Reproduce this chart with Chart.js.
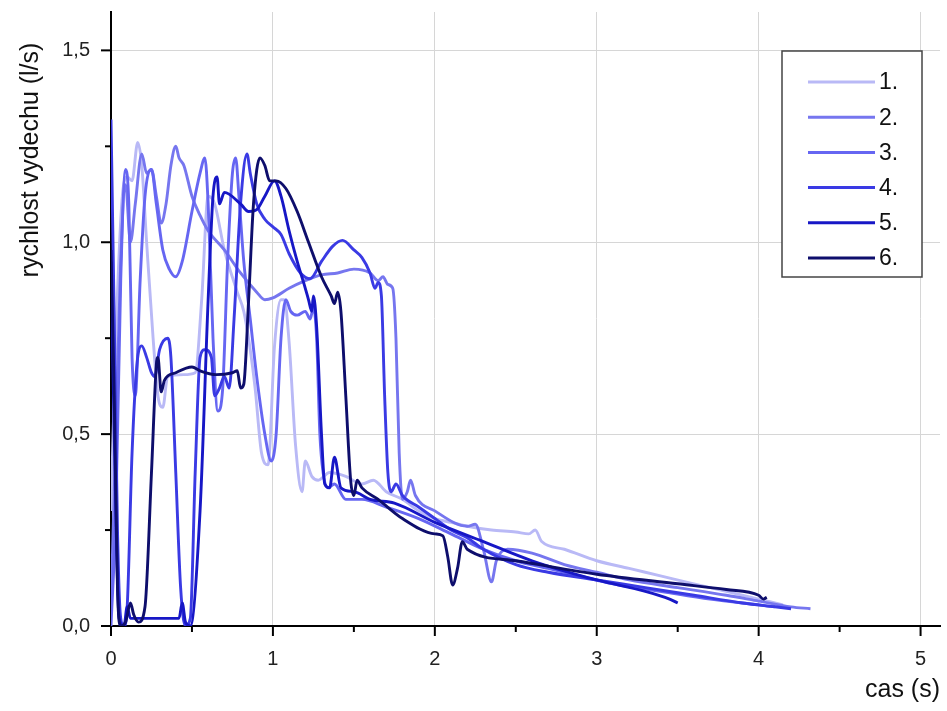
<!DOCTYPE html>
<html>
<head>
<meta charset="utf-8">
<script src="https://cdn.jsdelivr.net/npm/chart.js@4.4.1/dist/chart.umd.min.js"></script>
<style>
  html, body { margin: 0; padding: 0; background: #fff; }
  #wrap { width: 947px; height: 711px; }
</style>
</head>
<body>
<div id="wrap"><canvas id="myChart" width="947" height="711"></canvas></div>
<script>
// tick values (s) and (l/s)
const xTicks = [0, 0.5, 1, 1.5, 2, 2.5, 3, 3.5, 4, 4.5, 5]
const yTicks = [0, 0.25, 0.5, 0.75, 1, 1.25, 1.5]

const seriesNames = ['1.', '2.', '3.', '4.', '5.', '6.']
const seriesColors = ['#b9b9f6', '#7676ef', '#6666f2', '#3a3ae4', '#1717c6', '#0e0e6c']

// 1.
const s1t = [0, 0.03, 0.07, 0.1, 0.13, 0.165, 0.19, 0.22, 0.26, 0.29, 0.32, 0.35, 0.45, 0.52, 0.56, 0.6, 0.64, 0.7, 0.78, 0.82, 0.86, 0.89, 0.93, 0.97, 1.01, 1.05, 1.07, 1.1, 1.14, 1.18, 1.2, 1.24, 1.28, 1.35, 1.45, 1.55, 1.62, 1.7, 1.8, 1.9, 2.0, 2.1, 2.2, 2.35, 2.5, 2.58, 2.62, 2.66, 2.8, 3.0, 3.2, 3.4, 3.6, 3.8, 4.0, 4.15]
const s1v = [0.3, 0.75, 1.12, 1.17, 1.16, 1.26, 1.2, 1.0, 0.75, 0.6, 0.57, 0.65, 0.655, 0.66, 0.85, 1.12, 1.1, 0.98, 0.87, 0.82, 0.72, 0.62, 0.45, 0.42, 0.73, 0.85, 0.85, 0.74, 0.47, 0.35, 0.43, 0.39, 0.38, 0.4, 0.39, 0.37, 0.38, 0.35, 0.33, 0.3, 0.28, 0.27, 0.26, 0.25, 0.245, 0.24, 0.25, 0.22, 0.2, 0.17, 0.15, 0.13, 0.11, 0.09, 0.07, 0.055]

// 2.
const s2t = [0, 0.03, 0.06, 0.09, 0.12, 0.15, 0.19, 0.22, 0.25, 0.28, 0.31, 0.34, 0.37, 0.4, 0.42, 0.45, 0.5, 0.55, 0.6, 0.7, 0.8, 0.9, 0.95, 1.0, 1.1, 1.2, 1.3, 1.4, 1.5, 1.6, 1.65, 1.68, 1.71, 1.74, 1.76, 1.78, 1.8, 1.83, 1.85, 1.88, 2.0, 2.2, 2.25, 2.3, 2.35, 2.38, 2.45, 2.6, 2.8, 3.0, 3.2, 3.5, 3.8, 4.0, 4.2, 4.32]
const s2v = [0.05, 0.5, 0.95, 1.15, 1.0, 1.1, 1.23, 1.18, 1.19, 1.12, 1.05, 1.1, 1.2, 1.25, 1.22, 1.2, 1.12, 1.07, 1.03, 0.98, 0.92, 0.87, 0.85, 0.855, 0.88, 0.9, 0.915, 0.92, 0.93, 0.92, 0.9, 0.91, 0.89, 0.88, 0.75, 0.45, 0.33, 0.35, 0.38, 0.34, 0.3, 0.26, 0.265, 0.2, 0.115, 0.17, 0.2, 0.19, 0.16, 0.14, 0.12, 0.1, 0.08, 0.065, 0.05, 0.045]

// 3.
const s3t = [0, 0.03, 0.06, 0.09, 0.11, 0.13, 0.15, 0.18, 0.21, 0.25, 0.28, 0.32, 0.36, 0.4, 0.44, 0.5, 0.55, 0.58, 0.6, 0.63, 0.66, 0.69, 0.72, 0.75, 0.77, 0.79, 0.82, 0.86, 0.9, 0.95, 0.99, 1.02, 1.05, 1.08, 1.11, 1.15, 1.2, 1.23, 1.25, 1.27, 1.29, 1.31, 1.34, 1.38, 1.45, 1.55, 1.7, 1.9, 2.1, 2.3, 2.5, 2.7, 2.9, 3.1, 3.4, 3.7, 4.0, 4.1]
const s3v = [0.0, 0.3, 0.9, 1.19, 1.1, 0.7, 0.6, 0.9, 1.12, 1.19, 1.1, 0.98, 0.93, 0.91, 0.95, 1.08, 1.18, 1.22, 1.1, 0.75, 0.56, 0.62, 0.95, 1.18, 1.22, 1.12, 0.95, 0.8, 0.65, 0.5, 0.43, 0.5, 0.75, 0.85, 0.82, 0.81, 0.82, 0.8, 0.83, 0.75, 0.5, 0.4, 0.36, 0.37, 0.33, 0.33, 0.31, 0.28, 0.24, 0.2, 0.17, 0.15, 0.13, 0.11, 0.09, 0.07, 0.055, 0.05]

// 4.
const s4t = [0, 0.02, 0.04, 0.06, 0.08, 0.1, 0.13, 0.16, 0.19, 0.22, 0.25, 0.27, 0.3, 0.35, 0.37, 0.4, 0.43, 0.46, 0.49, 0.52, 0.55, 0.58, 0.62, 0.64, 0.67, 0.7, 0.73, 0.76, 0.8, 0.84, 0.86, 0.9, 0.95, 1.0, 1.05, 1.1, 1.17, 1.23, 1.3, 1.37, 1.43, 1.5, 1.55, 1.6, 1.63, 1.65, 1.67, 1.69, 1.71, 1.73, 1.76, 1.8, 1.9, 2.0, 2.1, 2.2, 2.3, 2.5, 2.7, 3.0, 3.3, 3.6, 3.9, 4.1, 4.2]
const s4v = [1.32, 0.8, 0.25, 0.02, 0.0, 0.05, 0.45, 0.68, 0.73, 0.7, 0.66, 0.65, 0.72, 0.75, 0.7, 0.4, 0.1, 0.0, 0.02, 0.4, 0.7, 0.72, 0.7, 0.6, 0.62, 0.65, 0.62, 0.8, 1.1, 1.23, 1.18, 1.1, 1.06, 1.04, 1.02, 0.97, 0.92, 0.905, 0.95, 0.99, 1.005, 0.98, 0.96, 0.92, 0.88, 0.895, 0.86, 0.6, 0.4, 0.35, 0.37, 0.34, 0.31, 0.28, 0.25, 0.23, 0.2, 0.16, 0.14, 0.12, 0.1, 0.08, 0.06, 0.05, 0.045]

// 5.
const s5t = [0, 0.02, 0.05, 0.08, 0.1, 0.12, 0.15, 0.42, 0.44, 0.46, 0.49, 0.55, 0.6, 0.63, 0.655, 0.67, 0.7, 0.8, 0.85, 0.9, 0.95, 1.01, 1.05, 1.1, 1.15, 1.2, 1.22, 1.24, 1.25, 1.27, 1.3, 1.32, 1.35, 1.38, 1.42, 1.5, 1.6, 1.75, 2.0, 2.3, 2.6, 3.0, 3.3, 3.45, 3.5]
const s5v = [0.95, 0.5, 0.02, 0.0, 0.05, 0.02, 0.02, 0.02, 0.06, 0.01, 0.0, 0.3, 0.85, 1.12, 1.17, 1.1, 1.13, 1.1, 1.08, 1.085, 1.12, 1.16, 1.12, 1.03, 0.95, 0.88, 0.85, 0.82, 0.86, 0.78, 0.5, 0.37, 0.36, 0.44, 0.36, 0.35, 0.33, 0.32, 0.27, 0.22, 0.17, 0.12, 0.09, 0.07, 0.06]

// 6.
const s6t = [0, 0.02, 0.04, 0.06, 0.09, 0.12, 0.14, 0.17, 0.21, 0.25, 0.28, 0.29, 0.31, 0.33, 0.4, 0.5, 0.55, 0.65, 0.75, 0.78, 0.8, 0.82, 0.85, 0.88, 0.92, 0.95, 0.98, 1.02, 1.08, 1.15, 1.22, 1.3, 1.36, 1.38, 1.4, 1.42, 1.45, 1.48, 1.5, 1.52, 1.55, 1.65, 1.8, 2.0, 2.05, 2.08, 2.11, 2.14, 2.17, 2.2, 2.5, 3.0, 3.5, 3.8, 4.0, 4.03, 4.05]
const s6v = [0.98, 0.6, 0.1, 0.0, 0.01, 0.06, 0.03, 0.01, 0.05, 0.4, 0.68, 0.7, 0.61, 0.64, 0.66, 0.675, 0.665, 0.655, 0.66, 0.665, 0.62, 0.63, 0.85, 1.1, 1.22, 1.2, 1.16, 1.16, 1.14, 1.08, 1.0, 0.91, 0.86, 0.84, 0.87, 0.82, 0.6, 0.38, 0.34, 0.38, 0.36, 0.33, 0.28, 0.24, 0.235, 0.18, 0.107, 0.15, 0.22, 0.2, 0.17, 0.135, 0.11, 0.095, 0.08, 0.07, 0.075]

const allT = [s1t, s2t, s3t, s4t, s5t, s6t]
const allV = [s1v, s2v, s3v, s4v, s5v, s6v]

const toPoints = (ts, vs) => ts.map((t, i) => ({ x: t, y: vs[i] }))
const fmtComma = v => v.toFixed(1).replace('.', ',')
const isMajorX = v => Number.isInteger(v)
const isMajorY = v => Number.isInteger(Math.round(v * 2 * 1000) / 1000)

// tick marks outside the axes, long for major, short for minor
const tickMarks = {
  id: 'tickMarks',
  afterDraw (chart) {
    const ctx = chart.ctx
    const xs = chart.scales.x
    const ys = chart.scales.y
    const area = chart.chartArea
    ctx.save()
    ctx.strokeStyle = '#000'
    ctx.lineWidth = 2
    xs.ticks.forEach(t => {
      const px = xs.getPixelForValue(t.value)
      const len = isMajorX(t.value) ? 10 : 6
      ctx.beginPath()
      ctx.moveTo(px, area.bottom)
      ctx.lineTo(px, area.bottom + len)
      ctx.stroke()
    })
    ys.ticks.forEach(t => {
      const py = ys.getPixelForValue(t.value)
      const len = isMajorY(t.value) ? 10 : 6
      ctx.beginPath()
      ctx.moveTo(area.left, py)
      ctx.lineTo(area.left - len, py)
      ctx.stroke()
    })
    ctx.restore()
  }
}

// axis titles where the reference puts them
const axisTitles = {
  id: 'axisTitles',
  afterDraw (chart) {
    const ctx = chart.ctx
    ctx.save()
    ctx.fillStyle = '#111'
    ctx.font = '25px "Liberation Sans", Arial, sans-serif'
    ctx.textAlign = 'center'
    ctx.textBaseline = 'middle'
    ctx.translate(31, 160)
    ctx.rotate(-Math.PI / 2)
    ctx.fillText('rychlost vydechu (l/s)', 0, 0)
    ctx.restore()

    ctx.save()
    ctx.fillStyle = '#111'
    ctx.font = '25px "Liberation Sans", Arial, sans-serif'
    ctx.textAlign = 'right'
    ctx.textBaseline = 'middle'
    ctx.fillText('cas (s)', 940, 690)
    ctx.restore()
  }
}

// boxed legend inside the plot, top right
const boxLegend = {
  id: 'boxLegend',
  afterDatasetsDraw (chart) {
    const ctx = chart.ctx
    const left = 782, top = 51, right = 922, bottom = 277
    ctx.save()
    ctx.fillStyle = '#fff'
    ctx.fillRect(left, top, right - left, bottom - top)
    ctx.strokeStyle = '#444'
    ctx.lineWidth = 1.5
    ctx.strokeRect(left, top, right - left, bottom - top)
    ctx.font = '23px "Liberation Sans", Arial, sans-serif'
    ctx.textBaseline = 'middle'
    ctx.textAlign = 'left'
    chart.data.datasets.forEach((ds, i) => {
      const y = 82 + i * 35.2
      ctx.strokeStyle = ds.borderColor
      ctx.lineWidth = 3
      ctx.beginPath()
      ctx.moveTo(808, y)
      ctx.lineTo(875, y)
      ctx.stroke()
      ctx.fillStyle = '#111'
      ctx.fillText(ds.label, 879, y + 1)
    })
    ctx.restore()
  }
}

const datasets = seriesNames.map((name, i) => ({
  label: name,
  data: toPoints(allT[i], allV[i]),
  borderColor: seriesColors[i],
  backgroundColor: seriesColors[i],
  borderWidth: 2.9,
  pointRadius: 0,
  showLine: true,
  fill: false,
  cubicInterpolationMode: 'monotone',
  order: seriesNames.length - 1 - i,
}))

const tickFont = { family: '"Liberation Sans", Arial, sans-serif', size: 20 }

var ctx = document.getElementById('myChart').getContext('2d')
var chart = new Chart(ctx, {
  type: 'scatter',
  data: { datasets: datasets },
  options: {
    responsive: false,
    animation: false,
    layout: { padding: { top: 12, right: 7, left: 0, bottom: 0 } },
    plugins: {
      legend: { display: false },
      tooltip: { enabled: false },
    },
    scales: {
      x: {
        type: 'linear',
        min: 0,
        max: 5.12,
        afterBuildTicks: scale => { scale.ticks = xTicks.map(v => ({ value: v })) },
        afterFit: scale => {
          scale.height = 85
          scale.paddingLeft = 0
          scale.paddingRight = 0
        },
        border: { display: true, color: '#000', width: 2 },
        grid: {
          drawTicks: false,
          lineWidth: 1,
          color: c => (c.tick && isMajorX(c.tick.value) && c.tick.value !== 0) ? '#d6d6d6' : 'rgba(0,0,0,0)',
        },
        ticks: {
          padding: 21,
          color: '#222',
          font: tickFont,
          maxRotation: 0,
          autoSkip: false,
          callback: v => isMajorX(v) ? String(v) : '',
        },
      },
      y: {
        type: 'linear',
        min: 0,
        max: 1.6,
        afterBuildTicks: scale => { scale.ticks = yTicks.map(v => ({ value: v })) },
        afterFit: scale => {
          scale.width = 111
          scale.paddingTop = 0
          scale.paddingBottom = 0
        },
        border: { display: true, color: '#000', width: 2 },
        grid: {
          drawTicks: false,
          lineWidth: 1,
          color: c => (c.tick && isMajorY(c.tick.value) && c.tick.value !== 0) ? '#d6d6d6' : 'rgba(0,0,0,0)',
        },
        ticks: {
          padding: 21,
          color: '#222',
          font: tickFont,
          autoSkip: false,
          callback: v => isMajorY(v) ? fmtComma(v) : '',
        },
      },
    },
  },
  plugins: [tickMarks, axisTitles, boxLegend],
})
</script>
</body>
</html>
